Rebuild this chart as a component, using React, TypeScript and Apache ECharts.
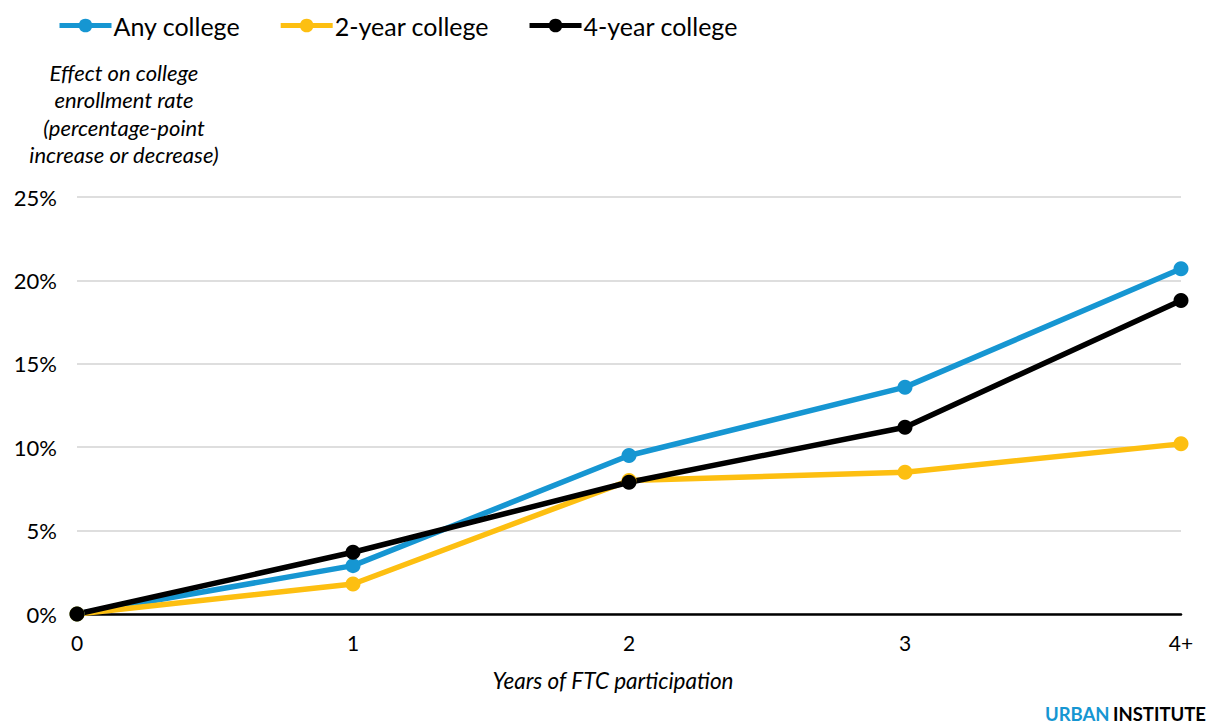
import React, { useEffect, useRef } from "react";
import * as echarts from "echarts";

const categories = ["0", "1", "2", "3", "4+"];
const anyCollege = [0, 2.9, 9.5, 13.6, 20.7];
const twoYear = [0, 1.8, 8.0, 8.5, 10.2];
const fourYear = [0, 3.7, 7.9, 11.2, 18.8];
const seriesNames = ["Any college", "2-year college", "4-year college"];
const colors = ["#1696d2", "#fdbf11", "#000000"];

export default function App() {
  const ref = useRef<HTMLDivElement>(null);
  useEffect(() => {
    const chart = echarts.init(ref.current!, null, { renderer: "svg" });
    const font = "Lato";
    const mk = (name: string, data: number[], color: string) => ({
      name,
      type: "line",
      data,
      symbol: "circle",
      symbolSize: 15,
      lineStyle: { width: 5.5, color },
      itemStyle: { color },
      emphasis: { disabled: true },
    });
    chart.setOption({
      animation: false,
      textStyle: { fontFamily: font },
      legend: {
        top: 8,
        left: 52,
        itemWidth: 52,
        itemHeight: 17,
        itemGap: 38,
        lineStyle: { width: 5 },
        textStyle: { fontSize: 25, color: "#000", fontFamily: font, padding: [0, 0, 0, -3] },
        data: seriesNames,
      },
      grid: { left: 77, right: 27, top: 197, bottom: 110, containLabel: false },
      xAxis: {
        type: "category",
        data: categories,
        boundaryGap: false,
        axisLine: { lineStyle: { color: "#000", width: 2.5 } },
        axisTick: { show: false },
        axisLabel: { fontSize: 21, color: "#000", margin: 18, fontFamily: font },
      },
      yAxis: {
        type: "value",
        min: 0,
        max: 25,
        interval: 5,
        axisLine: { show: false },
        axisTick: { show: false },
        splitLine: { lineStyle: { color: "#dedede", width: 2 } },
        axisLabel: { fontSize: 22, color: "#000", margin: 20, formatter: "{value}%", fontFamily: font },
      },
      graphic: [
        {
          type: "text",
          x: 124,
          y: 59,
          style: {
            text: "Effect on college\nenrollment rate\n(percentage-point\nincrease or decrease)",
            fontSize: 22,
            fontStyle: "italic",
            fontFamily: font,
            fill: "#000",
            align: "center",
            verticalAlign: "top",
            lineHeight: 27.3,
          },
        },
        {
          type: "text",
          x: 613,
          y: 680,
          style: {
            text: "Years of FTC participation",
            fontSize: 22.5,
            fontStyle: "italic",
            fontFamily: font,
            fill: "#000",
            align: "center",
            verticalAlign: "middle",
          },
        },
        {
          type: "text",
          right: 2,
          top: 704,
          style: {
            rich: {
              a: { fill: "#1696d2", fontSize: 18.5, fontWeight: "bold", fontFamily: font },
              b: { fill: "#000", fontSize: 18.5, fontWeight: "bold", fontFamily: font },
            },
            text: "{a|URBAN} {b|INSTITUTE}",
          },
        },
      ],
      series: [
        mk(seriesNames[0], anyCollege, colors[0]),
        mk(seriesNames[1], twoYear, colors[1]),
        mk(seriesNames[2], fourYear, colors[2]),
      ],
    });
    return () => chart.dispose();
  }, []);
  return <div ref={ref} style={{ width: 1208, height: 724, position: "absolute", left: 0, top: 0 }} />;
}
